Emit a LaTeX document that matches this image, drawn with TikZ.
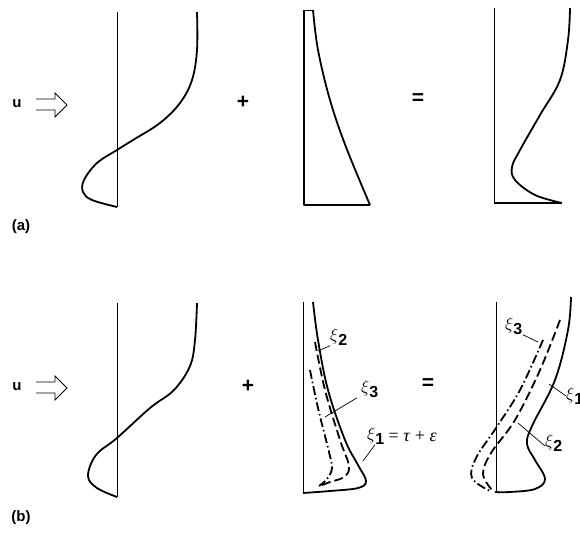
\documentclass[tikz,border=0pt]{standalone}
\usepackage{fontspec}
\setsansfont{Liberation Sans}
\newfontfamily\libserif{Liberation Serif}
\usetikzlibrary{positioning}

\begin{document}
\begin{tikzpicture}[
    x=1pt, y=-1pt,
    axisline/.style={line width=0.9pt},
    profile/.style={line width=1.8pt, line join=round},
    xitwo/.style={profile, dash pattern=on 9pt off 4pt},
    xithree/.style={profile, dash pattern=on 9pt off 3pt on 1.5pt off 3pt},
    leader/.style={line width=0.7pt},
    sign/.style={font=\fontsize{21}{24}\selectfont\sffamily\bfseries},
    lbl/.style={font=\fontsize{15}{18}\selectfont\sffamily\bfseries},
    xilbl/.style={font=\fontsize{16}{18}\selectfont, anchor=west, inner sep=0pt}
]
\useasboundingbox (0,0) rectangle (580,532);
\clip (0,0) rectangle (580,532);

% === (a) ===
\node[lbl] (ua) at (17,104) {u};
\draw[line width=0.8pt] (36,99) -- (55,99) -- (55,93) -- (67,105) -- (55,117) -- (55,110) -- (36,110);
\node[lbl] (labela) at (21,227) {(a)};

% Profil links
\draw[axisline] (117,12) -- (117,207);
\draw[profile] plot[smooth, tension=0.6] coordinates {(197,12) (197,50) (192,80) (180,103) (160,123)
    (133,140) (117,150) (97,163) (84,180) (83,192) (92,200) (117,207)};

\node[sign] (plusa) at (243,102) {+};

% Profil mitte
\draw[axisline] (313,10) -- (304,10) -- (304,205) -- (370,205);
\draw[profile] (304,10) -- (304,205) -- (370,205);
\draw[profile] plot[smooth, tension=0.6] coordinates {(313,10) (318,50) (330,100) (346,147) (370,205)};

\node[sign] (eqa) at (418,99) {=};

% Profil rechts
\draw[axisline] (494,8) -- (494,203);
\draw[profile] (494,203) -- (562,203);
\draw[profile] plot[smooth, tension=0.6] coordinates {(570,8) (568,40) (560,80) (540,115) (520,150)
    (512,167) (515,180) (535,195) (562,203)};

% === (b) ===
\node[lbl] (ub) at (17,387) {u};
\draw[line width=0.8pt] (36,382) -- (55,382) -- (55,376) -- (67,388) -- (55,400) -- (55,393) -- (36,393);
\node[lbl] (labelb) at (21,518) {(b)};

% Profil links
\draw[axisline] (117,303) -- (117,497);
\draw[profile] plot[smooth, tension=0.6] coordinates {(197,303) (195,340) (190,366) (174,390) (150,408)
    (117,438) (96,455) (88,476) (97,488) (117,497)};

\node[sign] (plusb) at (248,386) {+};

% Profil mitte: xi_1, xi_2, xi_3
\draw[axisline] (303,302) -- (303,493);
\draw[profile] plot[smooth, tension=0.6] coordinates {(313,302) (318,340) (328,390) (345,440)
    (358,465) (366,481) (358,488) (330,491) (303,493)};
\draw[xitwo] plot[smooth, tension=0.6] coordinates {(315,342) (325,390) (340,440) (349,466)
    (344,477) (330,482) (320,486)};
\draw[xithree] plot[smooth, tension=0.6] coordinates {(310,370) (318,408) (329,452) (332,468)
    (327,479) (319,486)};

\coordinate (c2m) at (318,351);
\coordinate (c3m) at (325,417);
\coordinate (c1m) at (363,461);
\node[xilbl] (xi2m) at (330,337) {$\xi$\raisebox{-5pt}{\sffamily\bfseries 2}};
\node[xilbl] (xi3m) at (361,389) {$\xi$\raisebox{-5pt}{\sffamily\bfseries 3}};
\node[xilbl] (xi1m) at (367,436) {$\xi$\raisebox{-5pt}{\sffamily\bfseries 1}};
\node[xilbl, font=\libserif\fontsize{18}{20}\selectfont, right=4pt of xi1m.east, anchor=west] (taueps) {= \textit{τ} + \textit{ε}};
\draw[leader] (c2m) -- (xi2m.south west);
\draw[leader] (c3m) -- ([xshift=-4pt]xi3m.south west);
\draw[leader] (c1m) -- ([xshift=8pt]xi1m.south west);

\node[sign] (eqb) at (428,384) {=};

% Profil rechts
\draw[axisline] (496,302) -- (496,493);
\draw[profile] plot[smooth, tension=0.6] coordinates {(571,297) (568,330) (555,380) (532,426)
    (527,444) (535,460) (545,479) (535,489) (510,492) (495,492)};
\draw[xitwo] plot[smooth, tension=0.6] coordinates {(560,320) (540,370) (515,420) (491,453)
    (483,474) (492,490)};
\draw[xithree] plot[smooth, tension=0.6] coordinates {(543,340) (520,390) (496,428) (476,458)
    (472,478) (490,491)};

\coordinate (c3r) at (538,342);
\coordinate (c1r) at (549,384);
\coordinate (c2r) at (518,423);
\node[xilbl] (xi3r) at (505,326) {$\xi$\raisebox{-5pt}{\sffamily\bfseries 3}};
\node[xilbl] (xi1r) at (566,396) {$\xi$\raisebox{-5pt}{\sffamily\bfseries 1}};
\node[xilbl] (xi2r) at (545,443) {$\xi$\raisebox{-5pt}{\sffamily\bfseries 2}};
\draw[leader] ([xshift=18pt]xi3r.south west) -- (c3r);
\draw[leader] (c1r) -- (xi1r.west);
\draw[leader] (c2r) -- ([yshift=-3pt]xi2r.west);

\end{tikzpicture}
\end{document}
